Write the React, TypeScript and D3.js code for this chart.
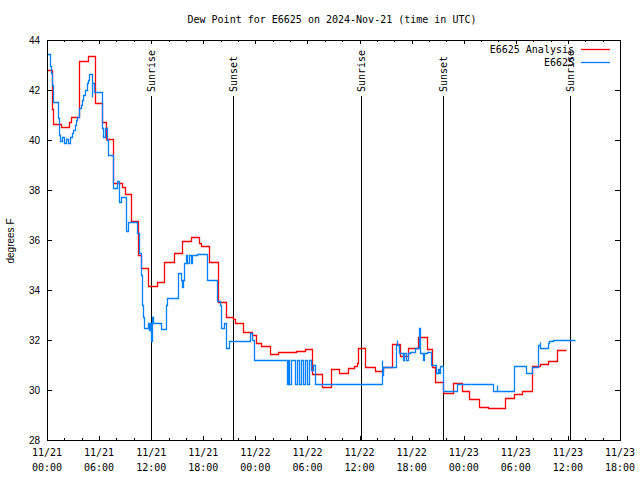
import React from 'react';
import * as d3 from 'd3';

// hours since 2024-11-21 00:00 UTC
const START_MS = Date.UTC(2024, 10, 21, 0, 0);
const END_HOURS = 66;

const analysisHours = [
  0.0, 0.54, 0.63, 0.73, 1.61, 2.57, 2.76, 3.72, 4.69, 5.53, 6.3, 6.8, 7.64, 8.6, 8.98, 9.64,
  10.52, 10.79, 11.67, 12.64, 13.51, 14.66, 15.58, 16.55, 17.54, 17.7, 18.69, 19.66, 20.62,
  21.46, 21.65, 22.61, 23.58, 24.03, 24.61, 25.69, 26.64, 28.68, 29.72, 30.56, 31.64, 32.68,
  33.63, 34.63, 35.4, 35.67, 35.86, 36.63, 37.78, 38.74, 39.7, 40.66, 41.61, 42.77, 43.73,
  44.31, 44.69, 45.65, 46.76, 47.77, 48.64, 49.76, 50.83, 52.75, 53.79, 54.68, 55.86, 56.78,
  57.74, 58.78, 59.75,
];
const analysisValues = [
  42.8, 42.08, 41.24, 40.64, 40.52, 40.72, 40.92, 43.16, 43.36, 41.48, 40.72, 40.04, 38.28, 38.12, 37.84, 36.76,
  35.4, 34.87, 34.16, 34.32, 35.13, 35.47, 35.97, 36.13, 35.89, 35.76, 35.11, 33.51, 32.93,
  32.84, 32.67, 32.31, 32.2, 31.87, 31.77, 31.44, 31.51, 31.55, 31.63, 30.64, 30.13, 30.83,
  30.69, 30.87, 30.96, 31.07, 31.67, 30.93, 30.76, 30.93, 31.83, 31.36, 31.67, 32.11, 31.63,
  30.93, 30.33, 29.87, 30.27, 29.96, 29.63, 29.31, 29.27, 29.67, 29.84, 29.96, 30.96, 31.04,
  31.17, 31.6, 31.6,
];

const obsHours = [
  0.0, 0.29, 0.46, 0.61, 0.73, 1.23, 1.35, 1.5, 1.73, 1.96, 2.19, 2.42, 2.65, 2.84, 3.03, 3.23,
  3.34, 3.49, 3.72, 3.88, 4.07, 4.18, 4.38, 4.57, 4.76, 4.87, 5.15, 5.24, 5.36, 6.3, 6.45, 6.68,
  6.88, 7.06, 7.64, 8.03, 8.29, 8.49, 9.1, 9.29, 10.33, 10.6, 10.83, 10.98, 11.09, 11.21, 11.67,
  11.78, 11.86, 11.98, 12.13, 12.24, 13.13, 13.67, 13.86, 15.06, 15.4, 15.58, 15.63, 15.81,
  15.97, 16.18, 16.36, 16.53, 16.7, 17.24, 18.46, 19.62, 19.93, 20.01, 20.39, 20.62, 21.0,
  23.38, 23.61, 23.88, 27.61, 27.76, 27.93, 28.16, 28.56, 28.8, 29.03, 29.26, 29.54, 29.77,
  30.0, 30.23, 30.41, 30.64, 30.87, 38.55, 38.64, 38.74, 40.17, 40.28, 40.37, 40.58, 40.97,
  41.12, 41.35, 41.58, 41.81, 42.39, 42.88, 42.96, 43.27, 43.42, 43.73, 44.19, 44.81, 44.98,
  45.15, 45.27, 45.65, 47.19, 51.41, 51.8, 51.89, 53.79, 55.13, 55.83, 56.59, 56.73, 56.78,
  57.74, 57.86, 58.32, 60.82,
];
const obsValues = [
  43.43, 42.96, 42.68, 42.2, 41.53, 40.87, 40.21, 39.96, 40.1, 39.9, 40.05, 39.9, 40.13, 40.27, 40.4, 40.6,
  40.8, 40.91, 41.27, 41.4, 41.6, 41.8, 42.0, 42.27, 42.4, 42.64, 41.73, 42.27, 41.93, 40.47, 40.13, 40.47,
  40.0, 39.4, 38.09, 38.37, 37.53, 37.71, 36.37, 36.73, 36.27, 35.47, 34.6, 33.4, 32.93, 32.47, 32.67,
  32.4, 32.67, 31.95, 32.93, 32.67, 32.43, 33.4, 33.67, 34.67, 34.4, 34.13, 34.4, 35.09,
  35.4, 35.1, 35.4, 35.1, 35.4, 35.43, 34.4, 33.56, 33.4, 32.47, 32.67, 31.69, 31.95,
  32.27, 32.0, 31.2, 30.24, 31.2, 30.24, 31.2, 30.24, 31.2, 30.24, 31.2, 30.24, 31.2,
  30.24, 31.2, 30.8, 31.0, 30.24, 31.2, 30.6, 30.93, 31.8, 32.0, 31.8, 31.47, 31.2,
  31.47, 31.2, 31.47, 31.53, 31.67, 32.47, 31.47, 31.2, 31.47, 31.53, 31.0, 30.67, 30.85,
  30.67, 30.96, 29.96, 30.24, 29.96, 30.2, 29.96, 30.96, 30.67, 30.93, 31.8, 31.93, 31.67,
  31.87, 31.97, 32.0, 32.0,
];

const sunEventHours = [11.98, 21.46, 36.13, 45.67, 60.28];
const sunEventLabels = ['Sunrise', 'Sunset', 'Sunrise', 'Sunset', 'Sunrise'];

const yTickValues = [28, 30, 32, 34, 36, 38, 40, 42, 44];
const titleText = 'Dew Point for E6625 on 2024-Nov-21 (time in UTC)';
const yAxisLabel = 'degrees F';
const seriesNames = ['E6625 Analysis', 'E6625'];

const RED = '#ff0000';
const BLUE = '#0080ff';

const toDate = (h: number) => new Date(START_MS + h * 3600 * 1000);

export default function App() {
  const W = 640, H = 480;
  const L = 47, R = 620, T = 40, B = 440;
  const x = d3.scaleUtc().domain([toDate(0), toDate(END_HOURS)]).range([L, R]);
  const y = d3.scaleLinear().domain([28, 44]).range([B, T]);

  const line = d3
    .line<[number, number]>()
    .x((d) => Math.round(x(toDate(d[0]))) + 0.5)
    .y((d) => Math.round(y(d[1])) + 0.5)
    .curve(d3.curveStepAfter);

  const redPts: [number, number][] = analysisHours.map((h, i) => [h, analysisValues[i]]);
  const bluePts: [number, number][] = obsHours.map((h, i) => [h, obsValues[i]]);

  const majorTicks = x.ticks(d3.utcHour.every(6)!);
  const minorTicks = x.ticks(d3.utcHour.every(2)!).filter((d) => d.getUTCHours() % 6 !== 0);
  const fmtDate = d3.utcFormat('%m/%d');
  const fmtTime = d3.utcFormat('%H:%M');

  const mono = "'DejaVu Sans Mono', monospace";
  const sans = "'Liberation Sans', Arial, sans-serif";
  const px = (v: number) => Math.round(v) + 0.5;

  return (
    <svg width={W} height={H} style={{ position: 'absolute', left: 0, top: 0, background: '#fff' }}>
      <rect x={0} y={0} width={W} height={H} fill="#fff" />
      <text x={332} y={23} fontFamily={mono} fontSize={10} textAnchor="middle" fill="#000">
        {titleText}
      </text>

      {/* sunrise / sunset markers */}
      {sunEventHours.map((h, i) => {
        const xx = px(x(toDate(h)));
        return (
          <g key={'s' + i}>
            <line x1={xx} x2={xx} y1={96} y2={B} stroke="#000" strokeWidth={1} shapeRendering="crispEdges" />
            <text
              transform={`translate(${xx},${92}) rotate(-90)`}
              dy="0.35em"
              fontFamily={mono}
              fontSize={10}
              textAnchor="start"
              fill="#000"
            >
              {sunEventLabels[i]}
            </text>
          </g>
        );
      })}

      {/* ticks */}
      <g stroke="#000" strokeWidth={1} shapeRendering="crispEdges">
        {majorTicks.map((d, i) => {
          const xx = px(x(d));
          return (
            <g key={'mj' + i}>
              <line x1={xx} x2={xx} y1={B} y2={B - 4} />
              <line x1={xx} x2={xx} y1={T} y2={T + 4} />
            </g>
          );
        })}
        {minorTicks.map((d, i) => {
          const xx = px(x(d));
          return (
            <g key={'mn' + i}>
              <line x1={xx} x2={xx} y1={B} y2={B - 2} />
              <line x1={xx} x2={xx} y1={T} y2={T + 2} />
            </g>
          );
        })}
        {yTickValues.map((v, i) => {
          const yy = px(y(v));
          return (
            <g key={'yt' + i}>
              <line x1={L} x2={L + 5} y1={yy} y2={yy} />
              <line x1={R} x2={R - 5} y1={yy} y2={yy} />
            </g>
          );
        })}
      </g>

      {/* tick labels */}
      {majorTicks.map((d, i) => (
        <g key={'xl' + i} fontFamily={mono} fontSize={10} fill="#000">
          <text x={x(d)} y={456} textAnchor="middle">{fmtDate(d)}</text>
          <text x={x(d)} y={471} textAnchor="middle">{fmtTime(d)}</text>
        </g>
      ))}
      {yTickValues.map((v, i) => (
        <text key={'yl' + i} x={40} y={y(v)} dy="0.35em" textAnchor="end" fontFamily={sans} fontSize={10} fill="#000">
          {v}
        </text>
      ))}
      <text
        transform={`translate(14,${241}) rotate(-90)`}
        textAnchor="middle"
        fontFamily={sans}
        fontSize={10}
        fill="#000"
      >
        {yAxisLabel}
      </text>

      {/* data */}
      <path d={line(redPts) || ''} fill="none" stroke={RED} strokeWidth={1.3} strokeLinejoin="miter" />
      <path d={line(bluePts) || ''} fill="none" stroke={BLUE} strokeWidth={1.3} strokeLinejoin="miter" />

      {/* frame */}
      <rect x={L + 0.5} y={T + 0.5} width={R - L} height={B - T} fill="none" stroke="#000" strokeWidth={1} shapeRendering="crispEdges" />

      {/* legend */}
      <g fontFamily={mono} fontSize={10} fill="#000">
        <text x={574} y={49} dy="0.35em" textAnchor="end">{seriesNames[0]}</text>
        <line x1={581} x2={610} y1={49.5} y2={49.5} stroke={RED} strokeWidth={1.3} />
        <text x={574} y={62} dy="0.35em" textAnchor="end">{seriesNames[1]}</text>
        <line x1={581} x2={610} y1={62.5} y2={62.5} stroke={BLUE} strokeWidth={1.3} />
      </g>
    </svg>
  );
}
